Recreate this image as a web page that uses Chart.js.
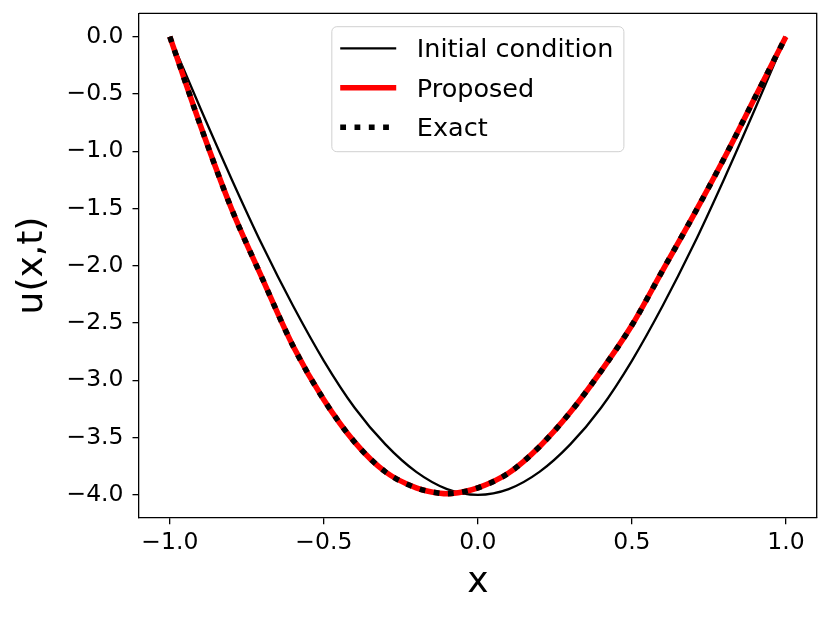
<!DOCTYPE html>
<html>

<head>
    <meta charset="utf-8">
    <script src="https://cdn.jsdelivr.net/npm/chart.js@4.4.1/dist/chart.umd.min.js"></script>
    <style>
        html, body { margin: 0; padding: 0; background: #fff; }
    </style>
</head>

<body>
    <div>
        <canvas id="myChart" width="830" height="619"></canvas>
    </div>
</body>

<script>

    const xInitial = [-1.0, -0.9, -0.8, -0.7, -0.6, -0.5, -0.4, -0.3, -0.2, -0.1, 0.0,
        0.1, 0.2, 0.3, 0.4, 0.5, 0.6, 0.7, 0.8, 0.9, 1.0]
    const initialVals = [0, -0.63, -1.24, -1.82, -2.35, -2.83, -3.24, -3.56, -3.80, -3.95, -4.00,
        -3.95, -3.80, -3.56, -3.24, -2.83, -2.35, -1.82, -1.24, -0.63, 0]

    const xSolution = [-1.0, -0.9, -0.8, -0.7, -0.6, -0.5, -0.4, -0.3, -0.2, -0.15, -0.1, -0.05, 0.0,
        0.1, 0.2, 0.3, 0.4, 0.5, 0.6, 0.7, 0.8, 0.9, 1.0]
    const proposedVals = [0, -0.78, -1.50, -2.11, -2.70, -3.17, -3.54, -3.80, -3.94, -3.975, -3.99, -3.975, -3.94,
        -3.81, -3.58, -3.28, -2.92, -2.52, -2.04, -1.56, -1.06, -0.53, 0]
    const exactVals = [0, -0.78, -1.50, -2.11, -2.70, -3.17, -3.54, -3.80, -3.94, -3.975, -3.99, -3.975, -3.94,
        -3.81, -3.58, -3.28, -2.92, -2.52, -2.04, -1.56, -1.06, -0.53, 0]

    const xTicks = [-1.0, -0.5, 0.0, 0.5, 1.0]
    const yTicks = [0.0, -0.5, -1.0, -1.5, -2.0, -2.5, -3.0, -3.5, -4.0]

    const FONT = 'DejaVu Sans'
    const fmt = (v) => v.toFixed(1).replace('-', '\u2212')
    const toPoints = (xs, ys) => xs.map((x, i) => ({ x: x, y: ys[i] }))

    // top / right spines like matplotlib
    const framePlugin = {
        id: 'frame',
        afterDraw(chart) {
            const { ctx, chartArea: a } = chart
            ctx.save()
            ctx.strokeStyle = '#000'
            ctx.lineWidth = 1.3
            ctx.beginPath()
            ctx.moveTo(a.left, a.top)
            ctx.lineTo(a.right, a.top)
            ctx.lineTo(a.right, a.bottom)
            ctx.stroke()
            ctx.restore()
        }
    }

    // legend box in the upper centre of the axes
    const legendPlugin = {
        id: 'boxLegend',
        afterDraw(chart) {
            const { ctx, chartArea: a } = chart
            const items = chart.data.datasets.slice().sort((p, q) => p.legendIndex - q.legendIndex)
            const fs = 25.5
            ctx.save()
            ctx.font = fs + 'px "' + FONT + '"'
            let tw = 0
            items.forEach(d => { tw = Math.max(tw, ctx.measureText(d.label).width) })
            const w = 85 + tw + 10.5
            const h = 125
            const left = (a.left + a.right) / 2 - w / 2
            const top = a.top + 13.4
            ctx.beginPath()
            ctx.roundRect(left, top, w, h, 5)
            ctx.fillStyle = 'rgba(255,255,255,0.8)'
            ctx.fill()
            ctx.strokeStyle = '#d0d0d0'
            ctx.lineWidth = 1
            ctx.stroke()
            const rows = [21.6, 61, 100.6]
            items.forEach((d, i) => {
                const y = top + rows[i]
                ctx.beginPath()
                ctx.setLineDash(d.borderDash || [])
                ctx.lineCap = 'butt'
                ctx.strokeStyle = d.borderColor
                ctx.lineWidth = d.borderWidth
                ctx.moveTo(left + 8.4, y)
                ctx.lineTo(left + 64.4, y)
                ctx.stroke()
                ctx.setLineDash([])
                ctx.fillStyle = '#000'
                ctx.textBaseline = 'alphabetic'
                ctx.textAlign = 'left'
                ctx.fillText(d.label, left + 85, y + 0.35 * fs)
            })
            ctx.restore()
        }
    }

    const data = {
        datasets: [{
            label: 'Exact',
            legendIndex: 2,
            order: 0,
            data: toPoints(xSolution, exactVals),
            borderColor: '#000000',
            borderWidth: 5.5,
            borderDash: [5.8, 8.5],
            borderCapStyle: 'butt'
        }, {
            label: 'Proposed',
            legendIndex: 1,
            order: 1,
            data: toPoints(xSolution, proposedVals),
            borderColor: '#ff0000',
            borderWidth: 5.5
        }, {
            label: 'Initial condition',
            legendIndex: 0,
            order: 2,
            data: toPoints(xInitial, initialVals),
            borderColor: '#000000',
            borderWidth: 2.3
        }]
    }

    const config = {
        type: 'line',
        data: data,
        options: {
            responsive: false,
            animation: false,
            parsing: true,
            layout: { padding: { top: 13.3, right: 13.3, left: 0, bottom: 0 } },
            elements: {
                point: { radius: 0 },
                line: { cubicInterpolationMode: 'monotone', fill: false }
            },
            plugins: {
                legend: { display: false },
                tooltip: { enabled: false }
            },
            scales: {
                x: {
                    type: 'linear',
                    min: -1.1,
                    max: 1.1,
                    afterBuildTicks: (s) => { s.ticks = xTicks.map(v => ({ value: v })) },
                    afterFit: (s) => {
                        s.height = 101.3
                        s.paddingLeft = 0
                        s.paddingRight = 0
                    },
                    ticks: {
                        callback: (v) => fmt(v),
                        font: { family: FONT, size: 23.5 },
                        color: '#000',
                        padding: 5,
                        maxRotation: 0
                    },
                    grid: {
                        drawOnChartArea: false,
                        drawTicks: true,
                        tickLength: 6.5,
                        color: '#000',
                        lineWidth: 1.3
                    },
                    border: { display: true, color: '#000', width: 1.3 },
                    title: {
                        display: true,
                        text: 'x',
                        color: '#000',
                        font: { family: FONT, size: 36 },
                        padding: { top: 0, bottom: 14.8 }
                    }
                },
                y: {
                    type: 'linear',
                    min: -4.2,
                    max: 0.204,
                    afterBuildTicks: (s) => { s.ticks = yTicks.map(v => ({ value: v })) },
                    afterFit: (s) => {
                        s.width = 139
                        s.paddingTop = 0
                        s.paddingBottom = 0
                    },
                    ticks: {
                        callback: (v) => fmt(v),
                        font: { family: FONT, size: 23.5 },
                        color: '#000',
                        padding: 9
                    },
                    grid: {
                        drawOnChartArea: false,
                        drawTicks: true,
                        tickLength: 6.5,
                        color: '#000',
                        lineWidth: 1.3
                    },
                    border: { display: true, color: '#000', width: 1.3 },
                    title: {
                        display: true,
                        text: 'u(x,t)',
                        color: '#000',
                        font: { family: FONT, size: 36 },
                        padding: { top: 11.4, bottom: 0 }
                    }
                }
            }
        },
        plugins: [framePlugin, legendPlugin]
    }

    const myChart = new Chart(document.getElementById('myChart'), config)

</script>

</html>
